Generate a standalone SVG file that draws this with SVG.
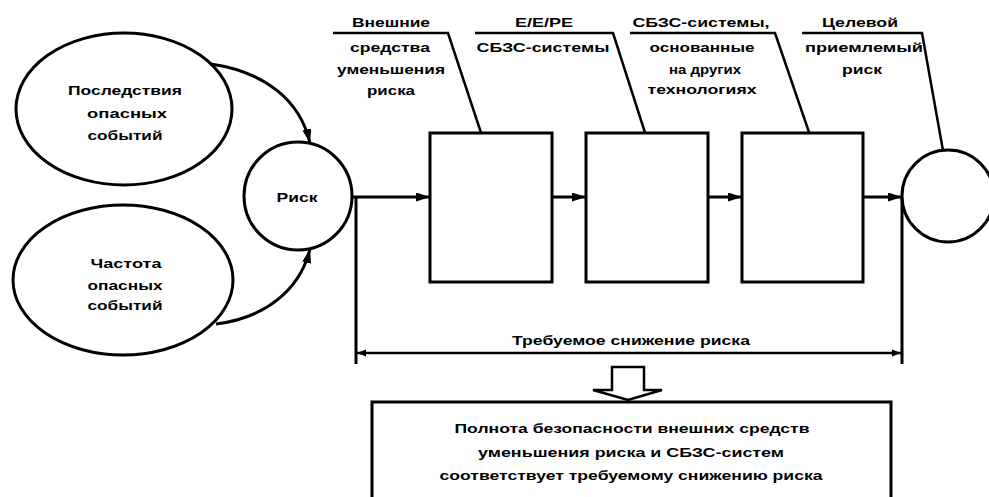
<svg xmlns="http://www.w3.org/2000/svg" width="989" height="497" viewBox="0 0 989 497">
<style>
.s{fill:none;stroke:#000;stroke-width:3}
.n{fill:#fff;stroke:#000;stroke-width:3}
.l{fill:none;stroke:#000;stroke-width:2.5}
.t{font-family:"Liberation Sans",Arial,sans-serif;font-size:13px;font-weight:bold;fill:#000;text-anchor:middle;dominant-baseline:central}
</style>
<defs>
<marker id="ah" viewBox="0 0 14 9" refX="14" refY="4.5" markerWidth="14" markerHeight="9" markerUnits="userSpaceOnUse" orient="auto">
<path d="M0,0 L14,4.5 L0,9 Z" fill="#000"/>
</marker>
</defs>
<g id="connectors">
<path class="s" d="M211,64 C265,72 300,100 310,143" marker-end="url(#ah)"/>
<path class="s" d="M216,324 C265,318 300,290 310,249" marker-end="url(#ah)"/>
<path class="s" d="M352,197 L430,197" marker-end="url(#ah)"/>
<path class="s" d="M552,197 L586,197" marker-end="url(#ah)"/>
<path class="s" d="M708,197 L742,197" marker-end="url(#ah)"/>
<path class="s" d="M863,197 L902,197" marker-end="url(#ah)"/>
<path class="s" d="M356,197 L356,364"/>
<path class="s" d="M902,197 L902,364"/>
<path class="l" d="M356,353 L902,353"/>
<path d="M357,353 L366,349.5 L366,356.5 Z" fill="#000"/>
<path d="M901,353 L892,349.5 L892,356.5 Z" fill="#000"/>
<path class="l" d="M333,33 L448,33 L495,175"/>
<path class="l" d="M475,33 L613,33 L658,173"/>
<path class="l" d="M630,33 L775,33 L823,173"/>
<path class="l" d="M802,33 L922,33 L947,173"/>
<path d="M612,367 L644,367 L644,390 L662,390 L628,400 L593,390 L612,390 Z" fill="#fff" stroke="#000" stroke-width="2.5" stroke-linejoin="miter"/>
</g>
<g id="consequences">
<ellipse class="n" cx="124" cy="109" rx="108" ry="76"/>
<text class="t" x="125" y="90" textLength="114" lengthAdjust="spacingAndGlyphs">Последствия</text>
<text class="t" x="127" y="113" textLength="80" lengthAdjust="spacingAndGlyphs">опасных</text>
<text class="t" x="125" y="135" textLength="75" lengthAdjust="spacingAndGlyphs">событий</text>
</g>
<g id="frequency">
<ellipse class="n" cx="123" cy="280" rx="110" ry="75"/>
<text class="t" x="126" y="263" textLength="71" lengthAdjust="spacingAndGlyphs">Частота</text>
<text class="t" x="125" y="285" textLength="75" lengthAdjust="spacingAndGlyphs">опасных</text>
<text class="t" x="125" y="305" textLength="75" lengthAdjust="spacingAndGlyphs">событий</text>
</g>
<g id="risk">
<circle class="n" cx="298" cy="196" r="54"/>
<text class="t" x="297" y="197" textLength="41" lengthAdjust="spacingAndGlyphs">Риск</text>
</g>
<g id="box1">
<rect class="n" x="430" y="133" width="122" height="149"/>
</g>
<g id="box2">
<rect class="n" x="586" y="133" width="122" height="149"/>
</g>
<g id="box3">
<rect class="n" x="742" y="133" width="121" height="149"/>
</g>
<g id="target">
<circle class="n" cx="948" cy="196" r="46"/>
</g>
<g id="label1">
<text class="t" x="391" y="22" textLength="78" lengthAdjust="spacingAndGlyphs">Внешние</text>
<text class="t" x="390" y="47" textLength="80" lengthAdjust="spacingAndGlyphs">средства</text>
<text class="t" x="391" y="69" textLength="108" lengthAdjust="spacingAndGlyphs">уменьшения</text>
<text class="t" x="391" y="90" textLength="48" lengthAdjust="spacingAndGlyphs">риска</text>
</g>
<g id="label2">
<text class="t" x="544" y="22" textLength="58" lengthAdjust="spacingAndGlyphs">Е/Е/РЕ</text>
<text class="t" x="543" y="47" textLength="133" lengthAdjust="spacingAndGlyphs">СБЗС-системы</text>
</g>
<g id="label3">
<text class="t" x="701" y="22" textLength="137" lengthAdjust="spacingAndGlyphs">СБЗС-системы,</text>
<text class="t" x="702" y="47" textLength="105" lengthAdjust="spacingAndGlyphs">основанные</text>
<text class="t" x="705" y="69" textLength="72" lengthAdjust="spacingAndGlyphs">на других</text>
<text class="t" x="702" y="89" textLength="109" lengthAdjust="spacingAndGlyphs">технологиях</text>
</g>
<g id="label4">
<text class="t" x="860" y="22" textLength="76" lengthAdjust="spacingAndGlyphs">Целевой</text>
<text class="t" x="864" y="47" textLength="118" lengthAdjust="spacingAndGlyphs">приемлемый</text>
<text class="t" x="862" y="69" textLength="40" lengthAdjust="spacingAndGlyphs">риск</text>
</g>
<g id="reduction">
<text class="t" x="631" y="340" textLength="238" lengthAdjust="spacingAndGlyphs">Требуемое снижение риска</text>
</g>
<g id="conclusion">
<rect class="n" x="372" y="402" width="519" height="110"/>
<text class="t" x="632" y="428" textLength="355" lengthAdjust="spacingAndGlyphs">Полнота безопасности внешних средств</text>
<text class="t" x="631" y="452" textLength="306" lengthAdjust="spacingAndGlyphs">уменьшения риска и СБЗС-систем</text>
<text class="t" x="631" y="475" textLength="383" lengthAdjust="spacingAndGlyphs">соответствует требуемому снижению риска</text>
</g>
</svg>
